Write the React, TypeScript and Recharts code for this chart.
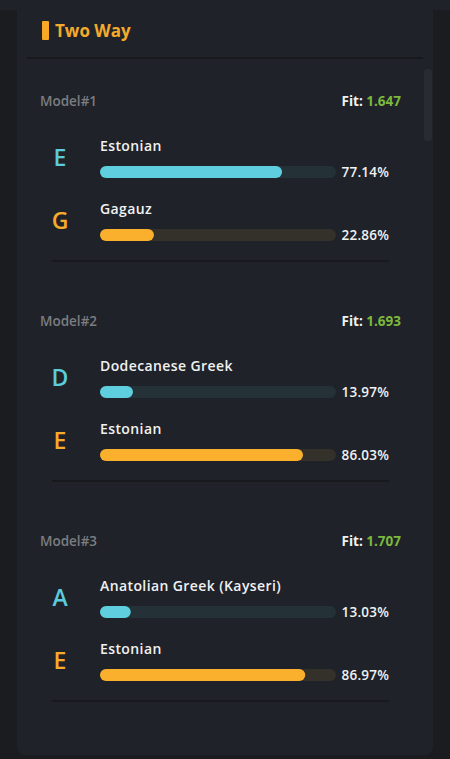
import React from 'react';
import { BarChart, Bar, XAxis, YAxis, LabelList, Cell, Rectangle } from 'recharts';

const modelNames = ['Model#1', 'Model#2', 'Model#3'];
const fitValues = [1.647, 1.693, 1.707];
const sourceNames = [
  ['Estonian', 'Gagauz'],
  ['Dodecanese Greek', 'Estonian'],
  ['Anatolian Greek (Kayseri)', 'Estonian'],
];
const sourceShares = [
  [77.14, 22.86],
  [13.97, 86.03],
  [13.03, 86.97],
];

const FONT = "'Open Sans', 'DejaVu Sans', sans-serif";
const BAR_COLORS = ['#5fcfe0', '#fbb02d'];
const TRACK_COLORS = ['#243137', '#34302a'];
const LETTER_COLORS = ['#5ccbdc', '#f7ab2a'];

const CHART_W = 416;
const M_LEFT = 83;
const M_RIGHT = 97;
const M_TOP = 30;
const BAND = 63;

function ModelChart({ idx }: { idx: number }) {
  const data = sourceNames[idx].map((n, i) => ({ name: n, share: sourceShares[idx][i] }));
  const trackEnd = CHART_W - M_RIGHT;
  const renderLabel = (p: any) => {
    const { x, y, height, index } = p;
    const cy = y + height / 2;
    const d = data[index];
    return (
      <g>
        <text x={x - 40} y={cy - 15} textAnchor="middle" dominantBaseline="central" fill={LETTER_COLORS[index]}
          style={{ fontFamily: FONT, fontSize: 23, fontWeight: 600 }}>
          {d.name.charAt(0)}
        </text>
        <text x={x} y={cy - 21} fill="#f1f1f1" style={{ fontFamily: FONT, fontSize: 14, fontWeight: 600, letterSpacing: 0.4 }}>
          {d.name}
        </text>
        <text x={trackEnd + 53} y={cy + 4.5} textAnchor="end" fill="#f1f1f1"
          style={{ fontFamily: FONT, fontSize: 13.5, fontWeight: 600, letterSpacing: 0.2 }}>
          {d.share.toFixed(2)}%
        </text>
      </g>
    );
  };
  return (
    <BarChart width={CHART_W} height={BAND * 2 + M_TOP} data={data} layout="vertical"
      margin={{ top: M_TOP, right: M_RIGHT, bottom: 0, left: M_LEFT }} barSize={12}
      style={{ overflow: 'visible' }}>
      <XAxis type="number" domain={[0, 100]} hide />
      <YAxis type="category" dataKey="name" hide />
      <Bar dataKey="share" isAnimationActive={false} radius={6}
        background={(p: any) => (
          <Rectangle key={`bg-${p.index}`} x={p.x} y={p.y} width={p.width} height={p.height}
            radius={6} fill={TRACK_COLORS[p.index]} />
        )}>
        {data.map((_, i) => <Cell key={i} fill={BAR_COLORS[i]} />)}
        <LabelList dataKey="share" content={renderLabel} />
      </Bar>
    </BarChart>
  );
}

export default function App() {
  return (
    <div style={{ position: 'absolute', left: 0, top: 0, width: 450, height: 759, background: '#1a1c20', overflow: 'hidden', fontFamily: FONT }}>
      <div style={{ position: 'absolute', left: 0, top: 0, width: 450, height: 10, background: '#1f2229' }} />
      <div style={{ position: 'absolute', left: 17, top: -10, width: 416, height: 765, background: '#1f2229', borderRadius: 8 }} />
      <div style={{ position: 'absolute', left: 42, top: 21, width: 7, height: 19, background: '#f8a825', borderRadius: 1 }} />
      <div style={{ position: 'absolute', left: 55, top: 19, height: 24, lineHeight: '24px', fontSize: 17, fontWeight: 700, color: '#f4aa2c' }}>Two Way</div>
      <div style={{ position: 'absolute', left: 27, top: 57, width: 396, height: 2, background: '#17191c' }} />
      <div style={{ position: 'absolute', left: 424, top: 69, width: 8, height: 72, background: '#282b31', borderRadius: 3 }} />
      {modelNames.map((m, i) => {
        const y0 = 101 + 220 * i;
        return (
          <React.Fragment key={m}>
            <div style={{ position: 'absolute', left: 40, top: y0 - 10, height: 20, lineHeight: '20px', fontSize: 13.5, fontWeight: 600, color: '#7b7d81' }}>{m}</div>
            <div style={{ position: 'absolute', right: 450 - 401, top: y0 - 10, height: 20, lineHeight: '20px', fontSize: 13.5, fontWeight: 700, color: '#f1f1f1' }}>
              Fit: <span style={{ color: '#7cb83c' }}>{fitValues[i].toFixed(3)}</span>
            </div>
            <div style={{ position: 'absolute', left: 17, top: y0 + 38.5 - M_TOP }}>
              <ModelChart idx={i} />
            </div>
            <div style={{ position: 'absolute', left: 52, top: y0 + 158.5, width: 337, height: 2, background: '#17191c' }} />
          </React.Fragment>
        );
      })}
    </div>
  );
}
